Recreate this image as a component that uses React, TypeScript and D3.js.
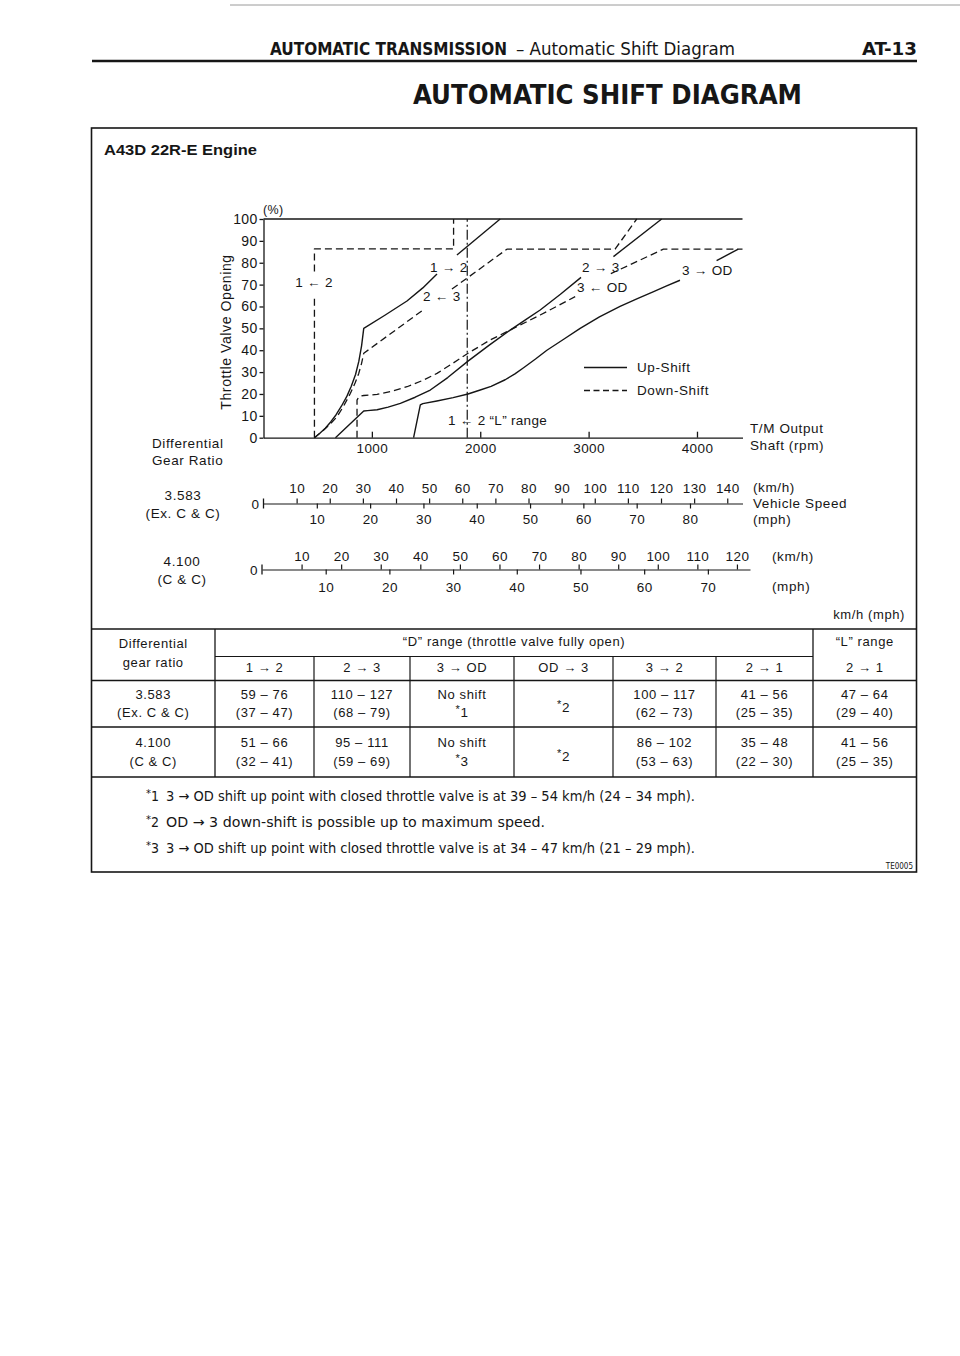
import React, { useEffect, useRef } from "react";
import * as d3 from "d3";

type Pt = [number, number];

// ---- chart data: [T/M output shaft rpm, throttle valve opening %] ----
const rpmTicks = [1000, 2000, 3000, 4000];
const throttleTicks = [0, 10, 20, 30, 40, 50, 60, 70, 80, 90, 100];

const up12a: Pt[] = [[470, 0], [520, 2], [570, 4.3], [620, 7.2], [670, 10.5], [720, 14.5], [770, 19], [810, 23.5], [850, 29], [880, 35], [905, 42], [925, 50], [1120, 56], [1324, 62.5], [1470, 68.5], [1601, 74.9]];
const up12b: Pt[] = [[1785, 83.5], [2184, 100]];
const down12a: Pt[] = [[470, 0], [470, 65]];
const down12b: Pt[] = [[470, 76], [470, 86.3], [1754, 86.3], [1754, 100]];
const down23a: Pt[] = [[470, 0], [540, 2.8], [610, 6], [679, 9.6], [740, 14.5], [802, 20.3], [845, 25], [879, 29.4], [905, 34], [925, 38.6], [1478, 58.6]];
const down23b: Pt[] = [[1739, 68], [1877, 72.9], [2246, 86.2], [3244, 86.2], [3444, 100]];
const up23a: Pt[] = [[664, 0], [925, 12.2], [960, 12.4], [1048, 12.8], [1150, 14], [1263, 15.7], [1400, 18.5], [1539, 21.8], [1700, 27.5], [1887, 35], [2080, 42.2], [2276, 49.2], [2420, 54], [2553, 58.4], [2740, 65.6], [2930, 73.3]];
const up23b: Pt[] = [[3229, 82.8], [3674, 100]];
const down3ODa: Pt[] = [[863, 0], [863, 17.2], [875, 18.3], [895, 19], [925, 19.3], [1048, 19.8], [1180, 21.2], [1324, 23.3], [1460, 26], [1601, 29.4], [1740, 33.8], [1887, 38.6], [2092, 44.7], [2276, 49.2], [2420, 52.8], [2553, 56.1], [2720, 60.4], [2876, 64.5]];
const down3ODb: Pt[] = [[3205, 75], [3690, 86.2], [4420, 86.2]];
const up3ODa: Pt[] = [[1385, 0], [1447, 15], [1470, 15.6], [1600, 16.8], [1750, 18.3], [1887, 20], [2000, 21.8], [2100, 23.5], [2230, 26.5], [2320, 29.2], [2400, 32], [2510, 36], [2615, 40], [2770, 45], [2922, 50], [3100, 55.2], [3290, 60], [3450, 63.6], [3600, 66.8], [3720, 69.4], [3843, 72]];
const up3ODb: Pt[] = [[4181, 81], [4381, 86.2]];
const lRange12: Pt[] = [[1880, 0], [1880, 100]];

// ---- vehicle speed scales ----
const kmhTicksA = [10, 20, 30, 40, 50, 60, 70, 80, 90, 100, 110, 120, 130, 140];
const mphTicksA = [10, 20, 30, 40, 50, 60, 70, 80];
const kmhTicksB = [10, 20, 30, 40, 50, 60, 70, 80, 90, 100, 110, 120];
const mphTicksB = [10, 20, 30, 40, 50, 60, 70];
const KMH_PER_MPH = 1.609344;

// ---- table data ----
const headD = ["1 → 2", "2 → 3", "3 → OD", "OD → 3", "3 → 2", "2 → 1"];
const headL = ["2 → 1"];
const ratioNames = [["3.583", "(Ex. C & C)"], ["4.100", "(C & C)"]];
const rowA = [["59 – 76", "(37 – 47)"], ["110 – 127", "(68 – 79)"], ["No shift", "*1"], ["*2"], ["100 – 117", "(62 – 73)"], ["41 – 56", "(25 – 35)"], ["47 – 64", "(29 – 40)"]];
const rowB = [["51 – 66", "(32 – 41)"], ["95 – 111", "(59 – 69)"], ["No shift", "*3"], ["*2"], ["86 – 102", "(53 – 63)"], ["35 – 48", "(22 – 30)"], ["41 – 56", "(25 – 35)"]];
const footnotes = [
  ["1", "3 → OD shift up point with closed throttle valve is at 39 – 54 km/h (24 – 34 mph)."],
  ["2", "OD → 3 down-shift is possible up to maximum speed."],
  ["3", "3 → OD shift up point with closed throttle valve is at 34 – 47 km/h (21 – 29 mph)."],
];

const FONT = "'Liberation Sans', Arial, Helvetica, sans-serif";
const NARROW = "'Liberation Sans Narrow', 'DejaVu Sans Condensed', 'Liberation Sans', sans-serif";
const INK = "#161616";
const LS = 0.6;

export default function App() {
  const ref = useRef<SVGSVGElement>(null);

  useEffect(() => {
    const svg = d3.select(ref.current);
    svg.selectAll("*").remove();
    svg.append("rect").attr("width", 960).attr("height", 1356).attr("fill", "#fff");

    const txt = (g: any, x: number, y: number, s: string, o: any = {}) => {
      const t = g.append("text").attr("x", x).attr("y", y).text(s)
        .attr("font-family", o.family || FONT)
        .attr("font-size", o.size || 13.5)
        .attr("font-weight", o.weight || "normal")
        .attr("fill", INK)
        .attr("text-anchor", o.anchor || "start")
        .attr("letter-spacing", o.ls !== undefined ? o.ls : LS);
      if (o.len) t.attr("textLength", o.len).attr("lengthAdjust", "spacingAndGlyphs");
      return t;
    };
    const hline = (g: any, x1: number, x2: number, y: number, w = 1.2, c = INK) =>
      g.append("line").attr("x1", x1).attr("x2", x2).attr("y1", y).attr("y2", y).attr("stroke", c).attr("stroke-width", w);
    const vline = (g: any, x: number, y1: number, y2: number, w = 1.2) =>
      g.append("line").attr("x1", x).attr("x2", x).attr("y1", y1).attr("y2", y2).attr("stroke", INK).attr("stroke-width", w);

    // ---- page header ----
    hline(svg, 230, 960, 5, 1, "#9a9a9a");
    txt(svg, 270, 55, "AUTOMATIC TRANSMISSION", { family: NARROW, weight: "bold", size: 17, len: 237, ls: 0 });
    txt(svg, 516, 55, "– Automatic Shift Diagram", { family: NARROW, size: 17, len: 219, ls: 0 });
    txt(svg, 862, 55, "AT-13", { family: NARROW, weight: "bold", size: 17, len: 55, ls: 0 });
    hline(svg, 92, 917, 61, 2.6);
    txt(svg, 413, 104, "AUTOMATIC SHIFT DIAGRAM", { family: NARROW, weight: "bold", size: 26, len: 389, ls: 0 });

    // ---- outer frame ----
    svg.append("rect").attr("x", 91.5).attr("y", 128).attr("width", 825).attr("height", 744)
      .attr("fill", "none").attr("stroke", INK).attr("stroke-width", 1.6);
    txt(svg, 104, 155, "A43D 22R-E Engine", { weight: "bold", size: 15.5, len: 153, ls: 0 });

    // ---- shift chart ----
    const x = d3.scaleLinear().domain([0, 4420]).range([263.5, 742.5]);
    const y = d3.scaleLinear().domain([0, 100]).range([437.7, 219]);
    const chart = svg.append("g");

    const ya = chart.append("g").attr("transform", `translate(${x(0)},0)`)
      .call(d3.axisLeft(y).tickValues(throttleTicks).tickSize(4).tickSizeOuter(0).tickPadding(2).tickFormat(d3.format("d")));
    ya.attr("font-family", FONT).attr("font-size", 14);
    ya.selectAll("line,path").attr("stroke", INK).attr("stroke-width", 1.3);
    ya.selectAll("text").attr("fill", INK).attr("letter-spacing", 0.3);

    const xa = chart.append("g").attr("transform", `translate(0,${y(0)})`)
      .call(d3.axisBottom(x).tickValues(rpmTicks).tickSize(-6).tickSizeOuter(0).tickPadding(6).tickFormat(d3.format("d")));
    xa.attr("font-family", FONT).attr("font-size", 13.5);
    xa.selectAll("line,path").attr("stroke", INK).attr("stroke-width", 1.3);
    xa.selectAll("text").attr("fill", INK).attr("letter-spacing", 0.4);

    hline(chart, x(0), x(4420), y(100), 1.3);
    txt(chart, 263, 214, "(%)", { size: 12.5, ls: 0.3 });
    txt(chart, 0, 0, "Throttle Valve Opening", { size: 14, anchor: "middle" })
      .attr("transform", `translate(231,332) rotate(-90)`);
    txt(chart, 152, 448, "Differential", { size: 13.5 });
    txt(chart, 152, 465, "Gear Ratio", { size: 13.5 });
    txt(chart, 750, 433, "T/M Output", { size: 13.5 });
    txt(chart, 750, 450, "Shaft (rpm)", { size: 13.5 });

    const line = d3.line<Pt>().x(d => x(d[0])).y(d => y(d[1]));
    const drawPath = (data: Pt[], dash: string | null, w: number) => {
      const p = chart.append("path").attr("d", line(data)).attr("fill", "none").attr("stroke", INK)
        .attr("stroke-width", w).attr("stroke-linejoin", "round");
      if (dash) p.attr("stroke-dasharray", dash);
      return p;
    };
    [up12a, up12b, up23a, up23b, up3ODa, up3ODb].forEach(s => drawPath(s, null, 1.4));
    [down23a, down23b, down3ODa, down3ODb, down12a, down12b].forEach(s => drawPath(s, "7,4", 1.3));
    drawPath(lRange12, "10,3,2,3", 1.2);

    const lab = (xx: number, yy: number, s: string, anchor = "start") => txt(chart, xx, yy, s, { size: 13.5, anchor, ls: 0.3 });
    lab(314, 287, "1 ←  2", "middle");
    lab(430, 272, "1 → 2");
    lab(423, 301, "2 ← 3");
    lab(582, 272, "2 → 3");
    lab(577, 292, "3 ← OD");
    lab(682, 275, "3 → OD");
    lab(448, 425, "1 ← 2 “L” range");

    // legend
    hline(chart, 584, 627, 367.5, 1.3);
    hline(chart, 584, 627, 390.5, 1.3).attr("stroke-dasharray", "6,3.5");
    txt(chart, 637, 372, "Up-Shift", { size: 13.5 });
    txt(chart, 637, 395, "Down-Shift", { size: 13.5 });

    // ---- vehicle speed axes ----
    const speedAxis = (ay: number, kmhMax: number, x0: number, x1: number, kmhT: number[], mphT: number[], padTop: number, padBot: number) => {
      const sk = d3.scaleLinear().domain([0, kmhMax]).range([x0, x1]);
      const sm = d3.scaleLinear().domain([0, kmhMax / KMH_PER_MPH]).range([x0, x1]);
      const g = svg.append("g");
      const top = g.append("g").attr("transform", `translate(0,${ay})`)
        .call(d3.axisTop(sk).tickValues(kmhT).tickSize(5).tickSizeOuter(0).tickPadding(padTop).tickFormat(d3.format("d")));
      const bot = g.append("g").attr("transform", `translate(0,${ay})`)
        .call(d3.axisBottom(sm).tickValues(mphT).tickSize(5).tickSizeOuter(0).tickPadding(padBot).tickFormat(d3.format("d")));
      bot.select(".domain").remove();
      [top, bot].forEach(a => {
        a.attr("font-family", FONT).attr("font-size", 13.5);
        a.selectAll("line,path").attr("stroke", INK).attr("stroke-width", 1.2);
        a.selectAll("text").attr("fill", INK).attr("letter-spacing", 0.4);
      });
      vline(g, x0, ay - 5, ay + 5, 1.3);
      txt(g, x0 - 4, ay + 5, "0", { size: 13.5, anchor: "end" });
    };
    speedAxis(503.5, 144.6, 263.5, 742.5, kmhTicksA, mphTicksA, 5.5, 6);
    speedAxis(569.5, 123.3, 262, 750, kmhTicksB, mphTicksB, 4, 8);

    txt(svg, 183, 500, ratioNames[0][0], { anchor: "middle" });
    txt(svg, 183, 518, ratioNames[0][1], { anchor: "middle" });
    txt(svg, 182, 566, ratioNames[1][0], { anchor: "middle" });
    txt(svg, 182, 584, ratioNames[1][1], { anchor: "middle" });
    txt(svg, 753, 492, "(km/h)", {});
    txt(svg, 753, 508, "Vehicle Speed", {});
    txt(svg, 753, 524, "(mph)", {});
    txt(svg, 772, 561, "(km/h)", {});
    txt(svg, 772, 591, "(mph)", {});

    // ---- table ----
    const tb = svg.append("g");
    const cols = [91.5, 215, 314, 410, 514, 613, 716, 813, 916.5];
    const rTop = 629, rMid = 656.5, rHead = 680.5, rDiv = 727, rBot = 777;
    txt(tb, 905, 619, "km/h (mph)", { anchor: "end", size: 13 });
    hline(tb, cols[0], cols[8], rTop, 1.5);
    hline(tb, cols[1], cols[7], rMid, 1.2);
    hline(tb, cols[0], cols[8], rHead, 1.5);
    hline(tb, cols[0], cols[8], rDiv, 1.5);
    hline(tb, cols[0], cols[8], rBot, 1.6);
    vline(tb, cols[1], rTop, rBot, 1.3);
    vline(tb, cols[7], rTop, rBot, 1.3);
    for (let i = 2; i <= 6; i++) vline(tb, cols[i], rMid, rBot, 1.2);
    const cx = (i: number) => (cols[i] + cols[i + 1]) / 2;
    txt(tb, cx(0), 648, "Differential", { anchor: "middle", size: 13 });
    txt(tb, cx(0), 667, "gear ratio", { anchor: "middle", size: 13 });
    txt(tb, (cols[1] + cols[7]) / 2, 646, "“D” range (throttle valve fully open)", { anchor: "middle", size: 13 });
    txt(tb, cx(7), 646, "“L” range", { anchor: "middle", size: 13 });
    headD.concat(headL).forEach((h, i) => txt(tb, cx(i + 1), 672, h, { anchor: "middle", size: 13 }));

    const cellText = (g: any, xx: number, yy: number, s: string) => {
      if (s.startsWith("*")) {
        const t = txt(g, xx, yy, "", { anchor: "middle", size: 13.5 });
        t.append("tspan").attr("dy", -4).attr("font-size", 11).text("*");
        t.append("tspan").attr("dy", 4).text(s.slice(1));
      } else {
        txt(g, xx, yy, s, { anchor: "middle", size: 13 });
      }
    };
    [[rowA, 699, 717, 712], [rowB, 747, 766, 761]].forEach(([row, b1, b2, bm]: any, ri: number) => {
      txt(tb, cx(0), b1, ratioNames[ri][0], { anchor: "middle", size: 13 });
      txt(tb, cx(0), b2, ratioNames[ri][1], { anchor: "middle", size: 13 });
      row.forEach((cell: string[], ci: number) => {
        if (cell.length === 1) cellText(tb, cx(ci + 1), bm, cell[0]);
        else {
          cellText(tb, cx(ci + 1), b1, cell[0]);
          cellText(tb, cx(ci + 1), b2, cell[1]);
        }
      });
    });

    // ---- footnotes ----
    const ends = [695, 545, 695];
    footnotes.forEach((f, i) => {
      const by = 801 + i * 26;
      const t = txt(svg, 146, by, "", { family: NARROW, size: 14, ls: 0 });
      t.append("tspan").attr("dy", -4).attr("font-size", 11).text("*");
      t.append("tspan").attr("dy", 4).text(f[0]);
      txt(svg, 166, by, f[1], { family: NARROW, size: 14, ls: 0, len: ends[i] - 166 });
    });
    txt(svg, 913, 869, "TE0005", { family: NARROW, size: 8, anchor: "end", ls: 0 });
  }, []);

  return <svg ref={ref} width={960} height={1356} style={{ position: "absolute", left: 0, top: 0 }} />;
}
